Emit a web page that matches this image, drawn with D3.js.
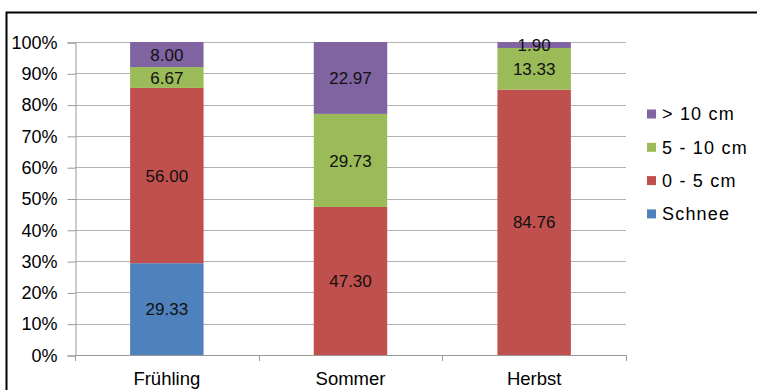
<!DOCTYPE html>
<html>
<head>
<meta charset="utf-8">
<script src="https://cdn.jsdelivr.net/npm/d3@7"></script>
<style>
  html, body { margin: 0; padding: 0; background: #fff; }
  svg { display: block; font-family: "Liberation Sans", Arial, sans-serif; }
</style>
</head>
<body>
<svg id="chart" width="757" height="390"></svg>
<script>
// Seasons along the x axis
const categories = ["Frühling", "Sommer", "Herbst"];
// Series, bottom to top of each stacked column
const seriesNames = ["Schnee", "0 - 5 cm", "5 - 10 cm", "> 10 cm"];
const schnee  = [29.33, 0, 0];
const cm0to5  = [56.00, 47.30, 84.76];
const cm5to10 = [6.67, 29.73, 13.33];
const cmOver10 = [8.00, 22.97, 1.90];
const seriesColors = ["#4F81BD", "#C0504D", "#9BBB59", "#8064A2"];
const yTicks = [0, 10, 20, 30, 40, 50, 60, 70, 80, 90, 100];

const seriesValues = [schnee, cm0to5, cm5to10, cmOver10];
const rows = categories.map((c, i) => {
  const r = { cat: c };
  seriesNames.forEach((s, k) => r[s] = seriesValues[k][i]);
  return r;
});

const svg = d3.select("#chart");
const plot = { left: 75, right: 626, top: 42, bottom: 355 };

// outer frame
svg.append("rect").attr("x", 6.5).attr("y", 12.5).attr("width", 800).attr("height", 400)
  .attr("fill", "none").attr("stroke", "#000").attr("stroke-width", 2);

const x = d3.scaleBand().domain(categories).range([plot.left, plot.right]).paddingInner(0.6).paddingOuter(0.3);
const y = d3.scaleLinear().domain([0, 100]).range([plot.bottom, plot.top]);

// gridlines
svg.append("g").selectAll("line").data(yTicks.filter(t => t > 0)).join("line")
  .attr("x1", plot.left).attr("x2", plot.right)
  .attr("y1", d => Math.round(y(d)) + 0.5).attr("y2", d => Math.round(y(d)) + 0.5)
  .attr("stroke", "#B3B3B3").attr("stroke-width", 1);

// y axis
const yAxis = d3.axisLeft(y).tickValues(yTicks).tickFormat(d => d + "%").tickSize(8).tickPadding(10);
const gy = svg.append("g").attr("transform", `translate(${plot.left + 0.5},0.5)`).call(yAxis);
gy.select(".domain").attr("stroke", "#999");
gy.selectAll(".tick line").attr("stroke", "#999");
gy.selectAll(".tick text").attr("font-size", 18).attr("fill", "#000")
  .attr("font-family", "Liberation Sans, Arial, sans-serif");

// stacked columns
const stack = d3.stack().keys(seriesNames);
const layers = stack(rows);

const gBars = svg.append("g");
layers.forEach((layer, k) => {
  gBars.selectAll(null).data(layer).join("rect")
    .attr("x", d => x(d.data.cat))
    .attr("width", x.bandwidth())
    .attr("y", d => y(d[1]))
    .attr("height", d => Math.max(0, y(d[0]) - y(d[1])))
    .attr("fill", seriesColors[k]);
});

// value labels
layers.forEach((layer, k) => {
  gBars.selectAll(null).data(layer.filter(d => d[1] - d[0] > 0)).join("text")
    .attr("x", d => x(d.data.cat) + x.bandwidth() / 2)
    .attr("y", d => (y(d[0]) + y(d[1])) / 2)
    .attr("dy", "0.36em")
    .attr("text-anchor", "middle")
    .attr("font-size", 17)
    .attr("fill", "#111")
    .text(d => (d[1] - d[0]).toFixed(2));
});

// x axis
const xEdges = [plot.left, plot.left + (plot.right - plot.left) / 3, plot.left + 2 * (plot.right - plot.left) / 3, plot.right];
svg.append("line").attr("x1", plot.left).attr("x2", plot.right)
  .attr("y1", plot.bottom + 0.5).attr("y2", plot.bottom + 0.5).attr("stroke", "#999");
svg.append("g").selectAll("line").data(xEdges).join("line")
  .attr("x1", d => Math.round(d) + 0.5).attr("x2", d => Math.round(d) + 0.5)
  .attr("y1", plot.bottom).attr("y2", plot.bottom + 6).attr("stroke", "#999");
svg.append("g").selectAll("text").data(categories).join("text")
  .attr("x", d => x(d) + x.bandwidth() / 2)
  .attr("y", 385)
  .attr("text-anchor", "middle")
  .attr("font-size", 18.5)
  .attr("fill", "#000")
  .text(d => d);

// legend, top entry is the top series
const legendOrder = seriesNames.map((s, k) => ({ name: s, color: seriesColors[k] })).reverse();
const lg = svg.append("g").selectAll("g").data(legendOrder).join("g")
  .attr("transform", (d, i) => `translate(647,${114 + i * 33.3})`);
lg.append("rect").attr("x", 0).attr("y", -4.5).attr("width", 9).attr("height", 9).attr("fill", d => d.color);
lg.append("text").attr("x", 15).attr("dy", "0.36em").attr("font-size", 18)
  .attr("letter-spacing", 1.2).attr("fill", "#000").text(d => d.name);
</script>
</body>
</html>
